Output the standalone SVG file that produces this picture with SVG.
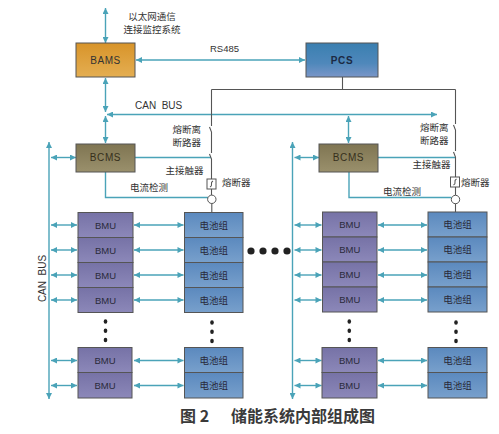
<svg xmlns="http://www.w3.org/2000/svg" width="499" height="434" viewBox="0 0 499 434">
<style>
.t{font-family:"Liberation Sans","Noto Sans CJK SC",sans-serif;font-size:9.5px;fill:#333}
.c{stroke:#4aa3b8;stroke-width:1.4;fill:none}
.ca{stroke:#4aa3b8;stroke-width:1.4;fill:none;marker-start:url(#ah);marker-end:url(#ah)}
.g{stroke:#555;stroke-width:1.1;fill:none}
.bx{stroke:#555;stroke-width:1}
.bl{font-family:"Liberation Sans",sans-serif;font-size:10px;text-anchor:middle;fill:#333;letter-spacing:0.6px}
.bt{font-family:"Liberation Sans","Noto Sans CJK SC",sans-serif;font-size:9.5px;text-anchor:middle;fill:#2a2a3a}
.dot{fill:#222}
</style>
<defs>
<marker id="ah" viewBox="0 0 10 10" refX="10" refY="5" markerWidth="7" markerHeight="6" markerUnits="userSpaceOnUse" orient="auto-start-reverse"><path d="M0,0 L10,5 L0,10 z" fill="#4aa3b8"/></marker>
<marker id="ae" viewBox="0 0 10 10" refX="10" refY="5" markerWidth="7" markerHeight="6" markerUnits="userSpaceOnUse" orient="auto"><path d="M0,0 L10,5 L0,10 z" fill="#4aa3b8"/></marker>
<linearGradient id="gBams" x1="0" y1="0" x2="0" y2="1"><stop offset="0" stop-color="#d8942a"/><stop offset="1" stop-color="#e4ae52"/></linearGradient>
<linearGradient id="gPcs" x1="0" y1="0" x2="0" y2="1"><stop offset="0" stop-color="#3a7fb0"/><stop offset="0.6" stop-color="#4f88bb"/><stop offset="1" stop-color="#7a96c8"/></linearGradient>
<linearGradient id="gBcms" x1="0" y1="0" x2="0" y2="1"><stop offset="0" stop-color="#7f7552"/><stop offset="1" stop-color="#9a906c"/></linearGradient>
<linearGradient id="gBmu" x1="0" y1="0" x2="0" y2="1"><stop offset="0" stop-color="#7672a6"/><stop offset="1" stop-color="#8c88b9"/></linearGradient>
<linearGradient id="gBat" x1="0" y1="0" x2="0" y2="1"><stop offset="0" stop-color="#5b89be"/><stop offset="1" stop-color="#78a0cc"/></linearGradient>
</defs>

<g id="connectors">
  <!-- top ethernet -->
  <line class="ca" x1="105.5" y1="8" x2="105.5" y2="43"/>
  <!-- RS485 -->
  <line class="ca" x1="136" y1="60" x2="305" y2="60"/>
  <!-- BAMS to CAN bus -->
  <line class="ca" x1="105.5" y1="78" x2="105.5" y2="112"/>
  <line class="ca" x1="105.5" y1="116" x2="105.5" y2="143"/>
  <!-- CAN bus horizontal -->
  <line class="ca" x1="107" y1="114.5" x2="437" y2="114.5"/>
  <line class="ca" x1="348.5" y1="116" x2="348.5" y2="143"/>
  <!-- left CAN bus vertical -->
  <line class="ca" x1="49" y1="142" x2="49" y2="399"/>
  <line class="ca" x1="51" y1="157.5" x2="76" y2="157.5"/>
  <!-- right CAN bus vertical -->
  <line class="ca" x1="292.5" y1="142" x2="292.5" y2="399"/>
  <line class="ca" x1="294.5" y1="157.5" x2="319" y2="157.5"/>
  <!-- BCMS to contactor -->
  <line class="c" x1="135" y1="157.5" x2="211" y2="157.5"/>
  <line class="c" x1="378" y1="157.5" x2="455" y2="157.5"/>
  <!-- current detection -->
  <polyline class="c" points="105.5,172 105.5,197.5 208,197.5"/>
  <polyline class="c" points="349,172 349,197.5 451.5,197.5"/>
  <!-- power lines (gray) -->
  <line class="g" x1="342.5" y1="77" x2="342.5" y2="89.5"/>
  <line class="g" x1="211.5" y1="89.5" x2="455.5" y2="89.5"/>
  <polyline class="g" points="211.5,89.5 211.5,126"/>
  <polyline class="g" points="209.5,127 211.5,132 211.5,153"/>
  <polyline class="g" points="209.5,154 211.5,159 211.5,179"/>
  <rect x="207" y="179" width="9" height="10" fill="#fff" stroke="#555" stroke-width="1"/>
  <path d="M213,181 C209,183 214,185 210,187" class="g" stroke-width="0.9"/>
  <line class="g" x1="211.5" y1="189" x2="211.5" y2="195"/>
  <circle cx="211.8" cy="199.3" r="4.2" fill="#fff" stroke="#555" stroke-width="1"/>
  <line class="g" x1="211.8" y1="203.5" x2="211.8" y2="212.5"/>
  <polyline class="g" points="455.5,89.5 455.5,124"/>
  <polyline class="g" points="453.5,125 455.5,130 455.5,151"/>
  <polyline class="g" points="453.5,152 455.5,157 455.5,177"/>
  <rect x="450.5" y="177" width="9" height="10" fill="#fff" stroke="#555" stroke-width="1"/>
  <path d="M456.5,179 C452.5,181 457.5,183 453.5,185" class="g" stroke-width="0.9"/>
  <line class="g" x1="455.5" y1="187" x2="455.5" y2="195"/>
  <circle cx="455.5" cy="199.5" r="4.2" fill="#fff" stroke="#555" stroke-width="1"/>
  <line class="g" x1="455.5" y1="203.7" x2="455.5" y2="212"/>
  <!-- row arrows left -->
  <line class="ca" x1="51" y1="225" x2="77" y2="225"/>
  <line class="ca" x1="51" y1="250" x2="77" y2="250"/>
  <line class="ca" x1="51" y1="275" x2="77" y2="275"/>
  <line class="ca" x1="51" y1="300" x2="77" y2="300"/>
  <line class="ca" x1="51" y1="360.5" x2="77" y2="360.5"/>
  <line class="ca" x1="51" y1="385.5" x2="77" y2="385.5"/>
  <line class="ca" x1="134" y1="225" x2="183.5" y2="225"/>
  <line class="ca" x1="134" y1="250" x2="183.5" y2="250"/>
  <line class="ca" x1="134" y1="275" x2="183.5" y2="275"/>
  <line class="ca" x1="134" y1="300" x2="183.5" y2="300"/>
  <line class="ca" x1="134" y1="360.5" x2="183.5" y2="360.5"/>
  <line class="ca" x1="134" y1="385.5" x2="183.5" y2="385.5"/>
  <!-- row arrows right -->
  <line class="ca" x1="294.5" y1="225" x2="321.5" y2="225"/>
  <line class="ca" x1="294.5" y1="250" x2="321.5" y2="250"/>
  <line class="ca" x1="294.5" y1="275" x2="321.5" y2="275"/>
  <line class="ca" x1="294.5" y1="300" x2="321.5" y2="300"/>
  <line class="ca" x1="294.5" y1="360.5" x2="321.5" y2="360.5"/>
  <line class="ca" x1="294.5" y1="385.5" x2="321.5" y2="385.5"/>
  <line class="ca" x1="378" y1="225" x2="427" y2="225"/>
  <line class="ca" x1="378" y1="250" x2="427" y2="250"/>
  <line class="ca" x1="378" y1="275" x2="427" y2="275"/>
  <line class="ca" x1="378" y1="300" x2="427" y2="300"/>
  <line class="ca" x1="378" y1="360.5" x2="427" y2="360.5"/>
  <line class="ca" x1="378" y1="385.5" x2="427" y2="385.5"/>
</g>

<g id="labels">
  <text class="t" x="152" y="19.5" text-anchor="middle">以太网通信</text>
  <text class="t" x="152" y="32.5" text-anchor="middle">连接监控系统</text>
  <text class="t" x="210" y="51.5" font-size="10">RS485</text>
  <text class="t" x="135" y="108.5" style="font-size:10px;white-space:pre" xml:space="preserve">CAN  BUS</text>
  <text class="t" transform="translate(45.5,278.5) rotate(-90)" text-anchor="middle" style="font-size:10px;white-space:pre" xml:space="preserve">CAN  BUS</text>
  <text class="t" x="201" y="132.5" text-anchor="end">熔断离</text>
  <text class="t" x="201" y="145.5" text-anchor="end">断路器</text>
  <text class="t" x="203.5" y="173.5" text-anchor="end">主接触器</text>
  <text class="t" x="222" y="185.5">熔断器</text>
  <text class="t" x="130" y="190.5">电流检测</text>
  <text class="t" x="448.5" y="130.5" text-anchor="end">熔断离</text>
  <text class="t" x="448.5" y="143.5" text-anchor="end">断路器</text>
  <text class="t" x="450.5" y="167.5" text-anchor="end">主接触器</text>
  <text class="t" x="461" y="185.5">熔断器</text>
  <text class="t" x="383" y="194.5">电流检测</text>
</g>

<g id="BAMS"><rect class="bx" x="76" y="43" width="59" height="34" fill="url(#gBams)"/><text class="bl" x="105.5" y="63.5" fill="#3a2a12">BAMS</text></g>
<g id="PCS"><rect class="bx" x="306" y="43" width="72" height="34" fill="url(#gPcs)"/><text class="bl" x="342" y="63.5" style="font-weight:bold;fill:#1c2a44">PCS</text></g>
<g id="BCMS-left"><rect class="bx" x="76" y="144" width="59" height="28" fill="url(#gBcms)"/><text class="bl" x="105.5" y="161" style="fill:#36301c">BCMS</text></g>
<g id="BCMS-right"><rect class="bx" x="319" y="144" width="59" height="28" fill="url(#gBcms)"/><text class="bl" x="348.5" y="161" style="fill:#36301c">BCMS</text></g>

<g id="BMU-left">
  <rect class="bx" x="78" y="212.5" width="55" height="25" fill="url(#gBmu)"/><text class="bt" x="105.5" y="228.5">BMU</text>
  <rect class="bx" x="78" y="237.5" width="55" height="25" fill="url(#gBmu)"/><text class="bt" x="105.5" y="253.5">BMU</text>
  <rect class="bx" x="78" y="262.5" width="55" height="25" fill="url(#gBmu)"/><text class="bt" x="105.5" y="278.5">BMU</text>
  <rect class="bx" x="78" y="287.5" width="55" height="25" fill="url(#gBmu)"/><text class="bt" x="105.5" y="303.5">BMU</text>
  <rect class="bx" x="78" y="347.5" width="54" height="25" fill="url(#gBmu)"/><text class="bt" x="105" y="364">BMU</text>
  <rect class="bx" x="78" y="372.5" width="54" height="25.5" fill="url(#gBmu)"/><text class="bt" x="105" y="389">BMU</text>
</g>
<g id="Battery-left">
  <rect class="bx" x="184.5" y="212.5" width="58.5" height="25" fill="url(#gBat)"/><text class="bt" x="213.7" y="228.5">电池组</text>
  <rect class="bx" x="184.5" y="237.5" width="58.5" height="25" fill="url(#gBat)"/><text class="bt" x="213.7" y="253.5">电池组</text>
  <rect class="bx" x="184.5" y="262.5" width="58.5" height="25" fill="url(#gBat)"/><text class="bt" x="213.7" y="278.5">电池组</text>
  <rect class="bx" x="184.5" y="287.5" width="58.5" height="25" fill="url(#gBat)"/><text class="bt" x="213.7" y="303.5">电池组</text>
  <rect class="bx" x="184.5" y="347.5" width="58.5" height="25" fill="url(#gBat)"/><text class="bt" x="213.7" y="364">电池组</text>
  <rect class="bx" x="184.5" y="372.5" width="58.5" height="25.5" fill="url(#gBat)"/><text class="bt" x="213.7" y="389">电池组</text>
</g>
<g id="BMU-right">
  <rect class="bx" x="322.5" y="212" width="54.5" height="25" fill="url(#gBmu)"/><text class="bt" x="349.7" y="228">BMU</text>
  <rect class="bx" x="322.5" y="237" width="54.5" height="25" fill="url(#gBmu)"/><text class="bt" x="349.7" y="253">BMU</text>
  <rect class="bx" x="322.5" y="262" width="54.5" height="25" fill="url(#gBmu)"/><text class="bt" x="349.7" y="278">BMU</text>
  <rect class="bx" x="322.5" y="287" width="54.5" height="25" fill="url(#gBmu)"/><text class="bt" x="349.7" y="303">BMU</text>
  <rect class="bx" x="322" y="347.5" width="55" height="25" fill="url(#gBmu)"/><text class="bt" x="349.5" y="363.5">BMU</text>
  <rect class="bx" x="322" y="372.5" width="55" height="25.5" fill="url(#gBmu)"/><text class="bt" x="349.5" y="388.5">BMU</text>
</g>
<g id="Battery-right">
  <rect class="bx" x="428" y="212" width="59" height="25" fill="url(#gBat)"/><text class="bt" x="457.5" y="228">电池组</text>
  <rect class="bx" x="428" y="237" width="59" height="25" fill="url(#gBat)"/><text class="bt" x="457.5" y="253">电池组</text>
  <rect class="bx" x="428" y="262" width="59" height="25" fill="url(#gBat)"/><text class="bt" x="457.5" y="278">电池组</text>
  <rect class="bx" x="428" y="287" width="59" height="25" fill="url(#gBat)"/><text class="bt" x="457.5" y="303">电池组</text>
  <rect class="bx" x="428" y="347.5" width="59" height="25" fill="url(#gBat)"/><text class="bt" x="457.5" y="364">电池组</text>
  <rect class="bx" x="428" y="372.5" width="59" height="25.5" fill="url(#gBat)"/><text class="bt" x="457.5" y="389">电池组</text>
</g>

<g id="ellipsis">
  <ellipse class="dot" cx="105.5" cy="321.5" rx="1.8" ry="2.2"/><ellipse class="dot" cx="105.5" cy="330.8" rx="1.8" ry="2.2"/><ellipse class="dot" cx="105.5" cy="340" rx="1.8" ry="2.2"/>
  <ellipse class="dot" cx="212" cy="322.5" rx="1.8" ry="2.2"/><ellipse class="dot" cx="212" cy="331.7" rx="1.8" ry="2.2"/><ellipse class="dot" cx="212" cy="341" rx="1.8" ry="2.2"/>
  <ellipse class="dot" cx="349.3" cy="321.5" rx="1.8" ry="2.2"/><ellipse class="dot" cx="349.3" cy="330.8" rx="1.8" ry="2.2"/><ellipse class="dot" cx="349.3" cy="340" rx="1.8" ry="2.2"/>
  <ellipse class="dot" cx="456" cy="322.5" rx="1.8" ry="2.2"/><ellipse class="dot" cx="456" cy="331.7" rx="1.8" ry="2.2"/><ellipse class="dot" cx="456" cy="341" rx="1.8" ry="2.2"/>
  <circle class="dot" cx="251" cy="251" r="3.6"/><circle class="dot" cx="263" cy="251" r="3.6"/><circle class="dot" cx="275" cy="251" r="3.6"/><circle class="dot" cx="287" cy="251" r="3.6"/>
</g>

<g id="caption">
  <text x="180" y="422" style="font-family:'Noto Sans CJK SC',sans-serif;font-size:16px;font-weight:bold;fill:#3a3a3a">图 2</text>
  <text x="231" y="422" style="font-family:'Noto Sans CJK SC',sans-serif;font-size:16px;font-weight:bold;fill:#3a3a3a">储能系统内部组成图</text>
</g>
</svg>
